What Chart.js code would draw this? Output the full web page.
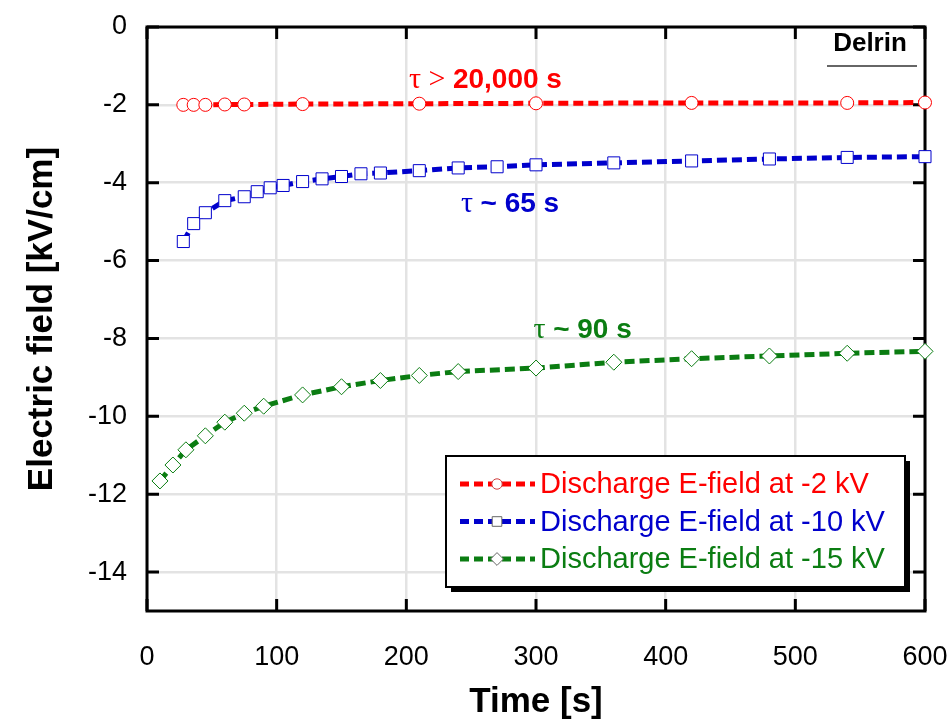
<!DOCTYPE html>
<html>
<head>
<meta charset="utf-8">
<script src="https://cdn.jsdelivr.net/npm/chart.js@4.4.0/dist/chart.umd.min.js"></script>
<style>
  html, body { margin: 0; padding: 0; background: #ffffff; }
</style>
</head>
<body>
<canvas id="grafico" width="951" height="725"></canvas>
<script>
// dados (tempo em s, campo em kV/cm)
const tempo2kV = [28, 36, 45, 60, 75, 120, 210, 300, 420, 540, 600];
const campo2kV = [-2.0, -2.0, -2.0, -1.99, -1.99, -1.98, -1.97, -1.96, -1.95, -1.95, -1.94];

const tempo10kV = [28, 36, 45, 60, 75, 85, 95, 105, 120, 135, 150, 165, 180, 210, 240, 270, 300, 360, 420, 480, 540, 600];
const campo10kV = [-5.51, -5.05, -4.77, -4.46, -4.36, -4.23, -4.13, -4.07, -3.97, -3.90, -3.84, -3.77, -3.75, -3.69, -3.62, -3.59, -3.54, -3.49, -3.44, -3.39, -3.35, -3.33];

const tempo15kV = [10, 20, 30, 45, 60, 75, 90, 120, 150, 180, 210, 240, 300, 360, 420, 480, 540, 600];
const campo15kV = [-11.66, -11.25, -10.86, -10.50, -10.15, -9.92, -9.74, -9.45, -9.24, -9.08, -8.95, -8.85, -8.76, -8.61, -8.52, -8.45, -8.38, -8.33];

const legendas = ['Discharge E-field at -2 kV', 'Discharge E-field at -10 kV', 'Discharge E-field at -15 kV'];
const ticksX = [0, 100, 200, 300, 400, 500, 600];
const ticksY = [0, -2, -4, -6, -8, -10, -12, -14];

// anotações: prefixo (serifado), texto (negrito), posição em unidades dos eixos
const notasPrefixo = ['τ > ', 'τ ', 'τ '];
const notasTexto = ['20,000 s', '~ 65 s', '~ 90 s'];
const notasX = [261, 280, 336];
const notasY = [-1.36, -4.56, -7.79];

const cores = ['#ff0000', '#0000cc', '#0b7d12'];
const estilos = ['circle', 'rect', 'rectRot'];
const raios = [6.5, 8.5, 8];

function pares(xs, ys) {
    return xs.map((x, i) => ({ x: x, y: ys[i] }));
}

const series = [pares(tempo2kV, campo2kV), pares(tempo10kV, campo10kV), pares(tempo15kV, campo15kV)];

const fonteSans = '"Liberation Sans", Arial, sans-serif';
const fonteSerif = '"Liberation Serif", "Times New Roman", serif';

// moldura, marcas para dentro, legenda e anotações
const pluginMoldura = {
    id: 'moldura',
    beforeDatasetsDraw(chart) {
        const ctx = chart.ctx;
        const a = chart.chartArea;
        const sx = chart.scales.x, sy = chart.scales.y;
        ctx.save();
        ctx.strokeStyle = '#000';
        ctx.lineWidth = 3;
        ctx.beginPath();
        ticksX.forEach(v => {
            const px = sx.getPixelForValue(v);
            ctx.moveTo(px, a.top); ctx.lineTo(px, a.top + 12);
            ctx.moveTo(px, a.bottom); ctx.lineTo(px, a.bottom - 12);
        });
        ticksY.forEach(v => {
            const py = sy.getPixelForValue(v);
            ctx.moveTo(a.left, py); ctx.lineTo(a.left + 12, py);
            ctx.moveTo(a.right, py); ctx.lineTo(a.right - 12, py);
        });
        ctx.stroke();
        ctx.strokeRect(a.left, a.top, a.right - a.left, a.bottom - a.top);
        ctx.restore();
    },
    afterDraw(chart) {
        const ctx = chart.ctx;
        const a = chart.chartArea;
        const sx = chart.scales.x, sy = chart.scales.y;
        ctx.save();

        // anotações τ
        ctx.textBaseline = 'middle';
        notasTexto.forEach((t, i) => {
            ctx.font = '30px ' + fonteSerif;
            const w1 = ctx.measureText(notasPrefixo[i]).width;
            ctx.font = 'bold 28px ' + fonteSans;
            const w2 = ctx.measureText(t).width;
            const cx = sx.getPixelForValue(notasX[i]);
            const cy = sy.getPixelForValue(notasY[i]);
            const x0 = cx - (w1 + w2) / 2;
            ctx.fillStyle = cores[i];
            ctx.textAlign = 'left';
            ctx.font = '30px ' + fonteSerif;
            ctx.fillText(notasPrefixo[i], x0, cy);
            ctx.font = 'bold 28px ' + fonteSans;
            ctx.fillText(t, x0 + w1, cy);
        });

        // Delrin
        ctx.fillStyle = '#000';
        ctx.font = 'bold 26px ' + fonteSans;
        ctx.textAlign = 'center';
        ctx.fillText('Delrin', a.right - 55, a.top + 17);
        ctx.strokeStyle = '#333';
        ctx.lineWidth = 1.5;
        ctx.beginPath();
        ctx.moveTo(a.right - 98, a.top + 39);
        ctx.lineTo(a.right - 8, a.top + 39);
        ctx.stroke();

        // legenda
        const lx = a.right - 479, ly = a.bottom - 155, lw = 459, lh = 131;
        ctx.fillStyle = '#000';
        ctx.fillRect(lx + 5, ly + 5, lw, lh);
        ctx.fillStyle = '#fff';
        ctx.fillRect(lx, ly, lw, lh);
        ctx.strokeStyle = '#000';
        ctx.lineWidth = 2;
        ctx.strokeRect(lx, ly, lw, lh);

        chart.data.datasets.forEach((ds, i) => {
            const y = ly + 28 + i * 37.5;
            ctx.strokeStyle = ds.borderColor;
            ctx.lineWidth = 5;
            ctx.setLineDash([9, 5]);
            ctx.beginPath();
            ctx.moveTo(lx + 14, y);
            ctx.lineTo(lx + 89, y);
            ctx.stroke();
            ctx.setLineDash([]);
            ctx.fillStyle = '#fff';
            ctx.strokeStyle = i === 0 ? '#d04040' : '#666';
            ctx.lineWidth = 1;
            Chart.helpers.drawPoint(ctx, { pointStyle: ds.pointStyle, radius: ds.pointRadius * 0.8, rotation: 0, borderWidth: 1 }, lx + 51, y);
            ctx.fillStyle = ds.borderColor;
            ctx.font = '29px ' + fonteSans;
            ctx.textAlign = 'left';
            ctx.textBaseline = 'middle';
            ctx.fillText(ds.label, lx + 94, y + 1);
        });
        ctx.restore();
    }
};

const ctx = document.getElementById('grafico').getContext('2d');

new Chart(ctx, {
    type: 'line',
    data: {
        datasets: series.map((d, i) => ({
            label: legendas[i],
            data: d,
            borderColor: cores[i],
            borderWidth: 5,
            borderDash: [10, 5],
            pointStyle: estilos[i],
            pointRadius: raios[i],
            pointBackgroundColor: '#ffffff',
            pointBorderColor: cores[i],
            pointBorderWidth: 1,
            tension: 0,
            clip: false
        }))
    },
    options: {
        responsive: false,
        animation: false,
        devicePixelRatio: 1,
        layout: { padding: { top: 27, right: 26, left: 0, bottom: 0 } },
        plugins: {
            legend: { display: false },
            tooltip: { enabled: false }
        },
        scales: {
            x: {
                type: 'linear',
                min: 0,
                max: 600,
                afterBuildTicks: s => { s.ticks = ticksX.map(v => ({ value: v })); },
                afterFit: s => { s.height = 114; s.paddingLeft = 0; s.paddingRight = 0; },
                grid: { color: '#e3e3e3', lineWidth: 2.5, drawTicks: false },
                border: { display: false },
                ticks: {
                    padding: 30,
                    color: '#000',
                    font: { family: fonteSans, size: 27 },
                    maxRotation: 0
                },
                title: {
                    display: true,
                    text: 'Time [s]',
                    color: '#000',
                    font: { family: fonteSans, size: 35, weight: 'bold' },
                    padding: { top: 0, bottom: 2 }
                }
            },
            y: {
                type: 'linear',
                min: -15,
                max: 0,
                afterBuildTicks: s => { s.ticks = ticksY.map(v => ({ value: v })); },
                afterFit: s => { s.width = 147; s.paddingTop = 0; s.paddingBottom = 0; },
                grid: { color: '#e3e3e3', lineWidth: 2.5, drawTicks: false },
                border: { display: false },
                ticks: {
                    padding: 20,
                    color: '#000',
                    font: { family: fonteSans, size: 27 }
                },
                title: {
                    display: true,
                    text: 'Electric field [kV/cm]',
                    color: '#000',
                    font: { family: fonteSans, size: 35, weight: 'bold' },
                    padding: { top: 21, bottom: 0 }
                }
            }
        }
    },
    plugins: [pluginMoldura]
});
</script>
</body>
</html>
